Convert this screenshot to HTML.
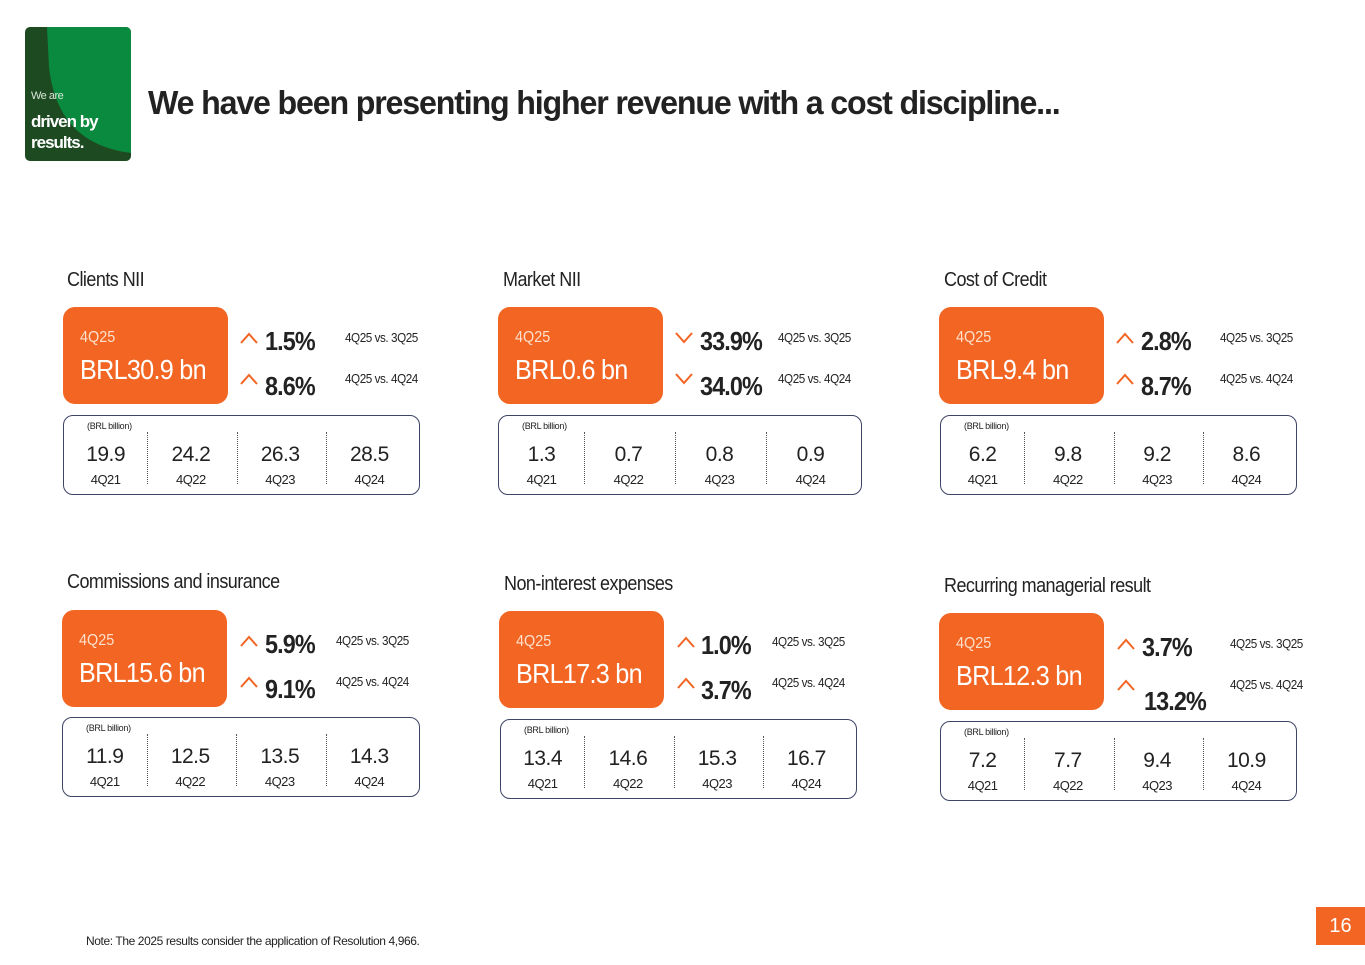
<!DOCTYPE html>
<html><head><meta charset="utf-8">
<style>
body{margin:0;width:1365px;height:965px;background:#fff;position:relative;overflow:hidden;font-family:"Liberation Sans",sans-serif;color:#222}
.a{position:absolute;white-space:nowrap}
.box{position:absolute;background:#f26522;border-radius:12px}
.tbl{position:absolute;border:1px solid #3d4466;border-radius:10px;box-sizing:border-box}
.div{position:absolute;border-left:1.5px dotted #555;width:0}
</style></head><body>
<div class="a" style="left:25px;top:27px;width:106px;height:134px;border-radius:5px;overflow:hidden;background:#1d4a20">
<svg width="106" height="134" style="position:absolute;left:0;top:0"><path d="M22 0 H106 V126 C60 120 30 95 24 40 Z" fill="#0a8a3e"/></svg>
<div class="a" style="left:6px;top:63px;font-size:11px;color:#d8e8d8;letter-spacing:-0.5px">We are</div>
<div class="a" style="left:6px;top:84px;font-size:17px;color:#fff;font-weight:bold;letter-spacing:-1px;line-height:21px">driven by<br>results.</div>
</div>
<div class="a" style="left:148px;top:84px;font-size:33px;font-weight:bold;color:#222;letter-spacing:-1.2px;transform:scaleX(0.975);transform-origin:left">We have been presenting higher revenue with a cost discipline...</div>
<div class="a" style="left:86px;top:934px;font-size:12px;letter-spacing:-0.4px">Note: The 2025 results consider the application of Resolution 4,966.</div>
<div class="a" style="left:1316px;top:907px;width:49px;height:38px;background:#f26522;color:#fff;font-size:20px;text-align:center;line-height:38px">16</div>
<div id="root"></div>
<script>
const titles=["Clients NII","Market NII","Cost of Credit","Commissions and insurance","Non-interest expenses","Recurring managerial result"];
const mains=["BRL30.9 bn","BRL0.6 bn","BRL9.4 bn","BRL15.6 bn","BRL17.3 bn","BRL12.3 bn"];
const pctQoQ=["1.5%","33.9%","2.8%","5.9%","1.0%","3.7%"];
const pctYoY=["8.6%","34.0%","8.7%","9.1%","3.7%","13.2%"];
const upQoQ=[true,false,true,true,true,true];
const upYoY=[true,false,true,true,true,true];
const quarters=["4Q21","4Q22","4Q23","4Q24"];
const histValues=[[19.9,24.2,26.3,28.5],[1.3,0.7,0.8,0.9],[6.2,9.8,9.2,8.6],[11.9,12.5,13.5,14.3],[13.4,14.6,15.3,16.7],[7.2,7.7,9.4,10.9]];
// layout
const L=[
{tx:67,ty:269,bx:63,by:307,ax:240,px:265,lx:345,tbx:63,tby:415,tw:357},
{tx:503,ty:269,bx:498,by:307,ax:675,px:700,lx:778,tbx:498,tby:415,tw:364},
{tx:944,ty:269,bx:939,by:307,ax:1116,px:1141,lx:1220,tbx:940,tby:415,tw:357},
{tx:67,ty:571,bx:62,by:610,ax:240,px:265,lx:336,tbx:62,tby:717,tw:358},
{tx:504,ty:573,bx:499,by:611,ax:677,px:701,lx:772,tbx:500,tby:719,tw:357},
{tx:944,ty:575,bx:939,by:613,ax:1117,px:1142,lx:1230,tbx:940,tby:721,tw:357}];
const root=document.getElementById('root');
function mk(cls,style,txt){const d=document.createElement('div');d.className=cls;d.style.cssText=style;if(txt!==undefined)d.textContent=txt;root.appendChild(d);return d;}
function arrow(x,y,up){const s=document.createElementNS('http://www.w3.org/2000/svg','svg');s.setAttribute('width','18');s.setAttribute('height','12');s.style.cssText=`position:absolute;left:${x}px;top:${y}px`;const p=document.createElementNS('http://www.w3.org/2000/svg','path');p.setAttribute('d',up?'M1 11 L9 2 L17 11':'M1 1 L9 10 L17 1');p.setAttribute('fill','none');p.setAttribute('stroke','#f26522');p.setAttribute('stroke-width','2');s.appendChild(p);root.appendChild(s);return s;}
const SX='transform:scaleX(0.9);transform-origin:left;';
titles.forEach((t,i)=>{const o=L[i];
let e=mk('a',`left:${o.tx}px;top:${o.ty}px;font-size:20px;letter-spacing:-0.6px;${SX}`,t);


e=mk('box',`left:${o.bx}px;top:${o.by}px;width:165px;height:97px`);


e=mk('a',`left:${o.bx+17}px;top:${o.by+22}px;font-size:16px;color:#fde0cc;${SX}`,'4Q25');


e=mk('a',`left:${o.bx+17}px;top:${o.by+47}px;font-size:28px;color:#fff;letter-spacing:-0.8px;${SX}`,mains[i]);


const y2=i===5?o.by+73:o.by+64;
e=arrow(o.ax,o.by+25,upQoQ[i]);


e=arrow(o.ax,o.by+66,upYoY[i]);


e=mk('a',`left:${o.px}px;top:${o.by+19}px;font-size:26px;font-weight:bold;letter-spacing:-1px;${SX}`,pctQoQ[i]);


e=mk('a',`left:${o.px+(i===5?2:0)}px;top:${y2}px;font-size:26px;font-weight:bold;letter-spacing:-1px;${SX}`,pctYoY[i]);


e=mk('a',`left:${o.lx}px;top:${o.by+23}px;font-size:13px;letter-spacing:-0.5px;${SX}`,'4Q25 vs. 3Q25');


e=mk('a',`left:${o.lx}px;top:${o.by+64}px;font-size:13px;letter-spacing:-0.5px;${SX}`,'4Q25 vs. 4Q24');


e=mk('tbl',`left:${o.tbx}px;top:${o.tby}px;width:${o.tw}px;height:80px`);


e=mk('a',`left:${o.tbx+24}px;top:${o.tby+6}px;font-size:9px;letter-spacing:-0.3px`,'(BRL billion)');


const cw=o.tw/4;
quarters.forEach((q,j)=>{const cx=o.tbx+cw*j+cw/2-6+(j===0?4:0);
if(j>0){e=mk('div',`left:${o.tbx+cw*j-5}px;top:${o.tby+17}px;height:52px`);

}
e=mk('a',`left:${cx-40}px;width:80px;text-align:center;top:${o.tby+28}px;font-size:21px;letter-spacing:-0.5px`,histValues[i][j].toFixed(1));


e=mk('a',`left:${cx-40}px;width:80px;text-align:center;top:${o.tby+57}px;font-size:13px;letter-spacing:-0.5px`,q);


});
});
</script>
</body></html>
